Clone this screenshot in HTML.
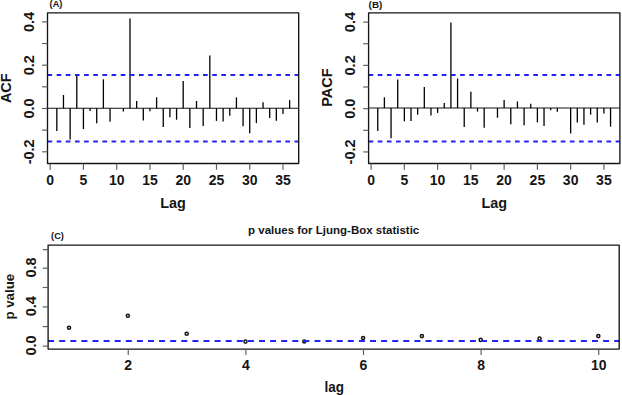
<!DOCTYPE html>
<html><head><meta charset="utf-8"><style>
html,body{margin:0;padding:0;background:#fff;}
svg{display:block;}
text{font-family:"Liberation Sans", sans-serif;fill:#151515;}
</style></head><body>
<svg width="622" height="395" viewBox="0 0 622 395">
<rect width="622" height="395" fill="#fff"/>
<line x1="47.5" y1="108.25" x2="298.7" y2="108.25" stroke="#151515" stroke-width="1.15"/>
<line x1="56.82" y1="108.25" x2="56.82" y2="130.90" stroke="#000" stroke-width="1.3"/>
<line x1="63.47" y1="108.25" x2="63.47" y2="95.00" stroke="#000" stroke-width="1.3"/>
<line x1="70.13" y1="108.25" x2="70.13" y2="139.40" stroke="#000" stroke-width="1.3"/>
<line x1="76.78" y1="108.25" x2="76.78" y2="75.30" stroke="#000" stroke-width="1.3"/>
<line x1="83.43" y1="108.25" x2="83.43" y2="129.00" stroke="#000" stroke-width="1.3"/>
<line x1="90.08" y1="108.25" x2="90.08" y2="111.00" stroke="#000" stroke-width="1.3"/>
<line x1="96.73" y1="108.25" x2="96.73" y2="123.20" stroke="#000" stroke-width="1.3"/>
<line x1="103.39" y1="108.25" x2="103.39" y2="79.30" stroke="#000" stroke-width="1.3"/>
<line x1="110.04" y1="108.25" x2="110.04" y2="121.80" stroke="#000" stroke-width="1.3"/>
<line x1="116.69" y1="108.25" x2="116.69" y2="108.25" stroke="#000" stroke-width="1.3"/>
<line x1="123.34" y1="108.25" x2="123.34" y2="111.60" stroke="#000" stroke-width="1.3"/>
<line x1="129.99" y1="108.25" x2="129.99" y2="18.40" stroke="#000" stroke-width="1.3"/>
<line x1="136.65" y1="108.25" x2="136.65" y2="101.00" stroke="#000" stroke-width="1.3"/>
<line x1="143.30" y1="108.25" x2="143.30" y2="120.40" stroke="#000" stroke-width="1.3"/>
<line x1="149.95" y1="108.25" x2="149.95" y2="111.30" stroke="#000" stroke-width="1.3"/>
<line x1="156.60" y1="108.25" x2="156.60" y2="97.30" stroke="#000" stroke-width="1.3"/>
<line x1="163.25" y1="108.25" x2="163.25" y2="126.90" stroke="#000" stroke-width="1.3"/>
<line x1="169.91" y1="108.25" x2="169.91" y2="117.30" stroke="#000" stroke-width="1.3"/>
<line x1="176.56" y1="108.25" x2="176.56" y2="119.70" stroke="#000" stroke-width="1.3"/>
<line x1="183.21" y1="108.25" x2="183.21" y2="80.90" stroke="#000" stroke-width="1.3"/>
<line x1="189.86" y1="108.25" x2="189.86" y2="128.10" stroke="#000" stroke-width="1.3"/>
<line x1="196.51" y1="108.25" x2="196.51" y2="101.00" stroke="#000" stroke-width="1.3"/>
<line x1="203.17" y1="108.25" x2="203.17" y2="126.00" stroke="#000" stroke-width="1.3"/>
<line x1="209.82" y1="108.25" x2="209.82" y2="55.60" stroke="#000" stroke-width="1.3"/>
<line x1="216.47" y1="108.25" x2="216.47" y2="120.90" stroke="#000" stroke-width="1.3"/>
<line x1="223.12" y1="108.25" x2="223.12" y2="121.50" stroke="#000" stroke-width="1.3"/>
<line x1="229.77" y1="108.25" x2="229.77" y2="115.70" stroke="#000" stroke-width="1.3"/>
<line x1="236.43" y1="108.25" x2="236.43" y2="97.40" stroke="#000" stroke-width="1.3"/>
<line x1="243.08" y1="108.25" x2="243.08" y2="126.30" stroke="#000" stroke-width="1.3"/>
<line x1="249.73" y1="108.25" x2="249.73" y2="133.20" stroke="#000" stroke-width="1.3"/>
<line x1="256.38" y1="108.25" x2="256.38" y2="123.10" stroke="#000" stroke-width="1.3"/>
<line x1="263.03" y1="108.25" x2="263.03" y2="102.20" stroke="#000" stroke-width="1.3"/>
<line x1="269.69" y1="108.25" x2="269.69" y2="117.90" stroke="#000" stroke-width="1.3"/>
<line x1="276.34" y1="108.25" x2="276.34" y2="120.80" stroke="#000" stroke-width="1.3"/>
<line x1="282.99" y1="108.25" x2="282.99" y2="114.00" stroke="#000" stroke-width="1.3"/>
<line x1="289.64" y1="108.25" x2="289.64" y2="100.10" stroke="#000" stroke-width="1.3"/>
<line x1="47.5" y1="75.05" x2="298.7" y2="75.05" stroke="#2424f2" stroke-width="1.9" stroke-dasharray="4.65 4.5"/>
<line x1="47.5" y1="141.45" x2="298.7" y2="141.45" stroke="#2424f2" stroke-width="1.9" stroke-dasharray="4.65 4.5"/>
<rect x="47.5" y="12.9" width="251.20" height="150.60" fill="none" stroke="#151515" stroke-width="1.35" stroke-linejoin="round"/>
<line x1="42.1" y1="151.80" x2="47.5" y2="151.80" stroke="#5a5a5a" stroke-width="1.15"/>
<line x1="42.1" y1="130.15" x2="47.5" y2="130.15" stroke="#5a5a5a" stroke-width="1.15"/>
<line x1="42.1" y1="108.50" x2="47.5" y2="108.50" stroke="#5a5a5a" stroke-width="1.15"/>
<line x1="42.1" y1="86.85" x2="47.5" y2="86.85" stroke="#5a5a5a" stroke-width="1.15"/>
<line x1="42.1" y1="65.20" x2="47.5" y2="65.20" stroke="#5a5a5a" stroke-width="1.15"/>
<line x1="42.1" y1="43.55" x2="47.5" y2="43.55" stroke="#5a5a5a" stroke-width="1.15"/>
<line x1="42.1" y1="21.90" x2="47.5" y2="21.90" stroke="#5a5a5a" stroke-width="1.15"/>
<text transform="translate(34.40 151.80) rotate(-90)" text-anchor="middle" font-size="14.5" font-weight="bold">-0.2</text>
<text transform="translate(34.40 108.50) rotate(-90)" text-anchor="middle" font-size="14.5" font-weight="bold">0.0</text>
<text transform="translate(34.40 65.20) rotate(-90)" text-anchor="middle" font-size="14.5" font-weight="bold">0.2</text>
<text transform="translate(34.40 21.90) rotate(-90)" text-anchor="middle" font-size="14.5" font-weight="bold">0.4</text>
<line x1="50.17" y1="163.5" x2="50.17" y2="169.7" stroke="#5a5a5a" stroke-width="1.15"/>
<text transform="translate(50.17 185.40) scale(1 1.05)" text-anchor="middle" font-size="14" font-weight="bold">0</text>
<line x1="83.43" y1="163.5" x2="83.43" y2="169.7" stroke="#5a5a5a" stroke-width="1.15"/>
<text transform="translate(83.43 185.40) scale(1 1.05)" text-anchor="middle" font-size="14" font-weight="bold">5</text>
<line x1="116.69" y1="163.5" x2="116.69" y2="169.7" stroke="#5a5a5a" stroke-width="1.15"/>
<text transform="translate(116.69 185.40) scale(1 1.05)" text-anchor="middle" font-size="14" font-weight="bold">10</text>
<line x1="149.95" y1="163.5" x2="149.95" y2="169.7" stroke="#5a5a5a" stroke-width="1.15"/>
<text transform="translate(149.95 185.40) scale(1 1.05)" text-anchor="middle" font-size="14" font-weight="bold">15</text>
<line x1="183.21" y1="163.5" x2="183.21" y2="169.7" stroke="#5a5a5a" stroke-width="1.15"/>
<text transform="translate(183.21 185.40) scale(1 1.05)" text-anchor="middle" font-size="14" font-weight="bold">20</text>
<line x1="216.47" y1="163.5" x2="216.47" y2="169.7" stroke="#5a5a5a" stroke-width="1.15"/>
<text transform="translate(216.47 185.40) scale(1 1.05)" text-anchor="middle" font-size="14" font-weight="bold">25</text>
<line x1="249.73" y1="163.5" x2="249.73" y2="169.7" stroke="#5a5a5a" stroke-width="1.15"/>
<text transform="translate(249.73 185.40) scale(1 1.05)" text-anchor="middle" font-size="14" font-weight="bold">30</text>
<line x1="282.99" y1="163.5" x2="282.99" y2="169.7" stroke="#5a5a5a" stroke-width="1.15"/>
<text transform="translate(282.99 185.40) scale(1 1.05)" text-anchor="middle" font-size="14" font-weight="bold">35</text>
<text x="173.10" y="208.00" text-anchor="middle" font-size="15" font-weight="bold" textLength="25.6" lengthAdjust="spacingAndGlyphs">Lag</text>
<text transform="translate(11.20 88.20) rotate(-90)" text-anchor="middle" font-size="14.5" font-weight="bold">ACF</text>
<text x="49.6" y="6.6" font-size="9" font-weight="bold" textLength="12.8" lengthAdjust="spacingAndGlyphs">(A)</text>
<line x1="368.6" y1="108.0" x2="619.9" y2="108.0" stroke="#151515" stroke-width="1.15"/>
<line x1="377.74" y1="108.0" x2="377.74" y2="130.90" stroke="#000" stroke-width="1.3"/>
<line x1="384.39" y1="108.0" x2="384.39" y2="97.30" stroke="#000" stroke-width="1.3"/>
<line x1="391.05" y1="108.0" x2="391.05" y2="138.20" stroke="#000" stroke-width="1.3"/>
<line x1="397.70" y1="108.0" x2="397.70" y2="79.60" stroke="#000" stroke-width="1.3"/>
<line x1="404.35" y1="108.0" x2="404.35" y2="121.30" stroke="#000" stroke-width="1.3"/>
<line x1="411.00" y1="108.0" x2="411.00" y2="121.00" stroke="#000" stroke-width="1.3"/>
<line x1="417.65" y1="108.0" x2="417.65" y2="114.80" stroke="#000" stroke-width="1.3"/>
<line x1="424.31" y1="108.0" x2="424.31" y2="87.00" stroke="#000" stroke-width="1.3"/>
<line x1="430.96" y1="108.0" x2="430.96" y2="115.60" stroke="#000" stroke-width="1.3"/>
<line x1="437.61" y1="108.0" x2="437.61" y2="112.90" stroke="#000" stroke-width="1.3"/>
<line x1="444.26" y1="108.0" x2="444.26" y2="103.10" stroke="#000" stroke-width="1.3"/>
<line x1="450.91" y1="108.0" x2="450.91" y2="22.50" stroke="#000" stroke-width="1.3"/>
<line x1="457.57" y1="108.0" x2="457.57" y2="78.50" stroke="#000" stroke-width="1.3"/>
<line x1="464.22" y1="108.0" x2="464.22" y2="126.90" stroke="#000" stroke-width="1.3"/>
<line x1="470.87" y1="108.0" x2="470.87" y2="91.80" stroke="#000" stroke-width="1.3"/>
<line x1="477.52" y1="108.0" x2="477.52" y2="111.60" stroke="#000" stroke-width="1.3"/>
<line x1="484.17" y1="108.0" x2="484.17" y2="127.70" stroke="#000" stroke-width="1.3"/>
<line x1="490.83" y1="108.0" x2="490.83" y2="108.00" stroke="#000" stroke-width="1.3"/>
<line x1="497.48" y1="108.0" x2="497.48" y2="117.80" stroke="#000" stroke-width="1.3"/>
<line x1="504.13" y1="108.0" x2="504.13" y2="99.90" stroke="#000" stroke-width="1.3"/>
<line x1="510.78" y1="108.0" x2="510.78" y2="124.20" stroke="#000" stroke-width="1.3"/>
<line x1="517.43" y1="108.0" x2="517.43" y2="101.50" stroke="#000" stroke-width="1.3"/>
<line x1="524.09" y1="108.0" x2="524.09" y2="125.30" stroke="#000" stroke-width="1.3"/>
<line x1="530.74" y1="108.0" x2="530.74" y2="103.70" stroke="#000" stroke-width="1.3"/>
<line x1="537.39" y1="108.0" x2="537.39" y2="122.40" stroke="#000" stroke-width="1.3"/>
<line x1="544.04" y1="108.0" x2="544.04" y2="125.90" stroke="#000" stroke-width="1.3"/>
<line x1="550.69" y1="108.0" x2="550.69" y2="110.30" stroke="#000" stroke-width="1.3"/>
<line x1="557.35" y1="108.0" x2="557.35" y2="111.80" stroke="#000" stroke-width="1.3"/>
<line x1="564.00" y1="108.0" x2="564.00" y2="108.00" stroke="#000" stroke-width="1.3"/>
<line x1="570.65" y1="108.0" x2="570.65" y2="133.50" stroke="#000" stroke-width="1.3"/>
<line x1="577.30" y1="108.0" x2="577.30" y2="122.60" stroke="#000" stroke-width="1.3"/>
<line x1="583.95" y1="108.0" x2="583.95" y2="124.70" stroke="#000" stroke-width="1.3"/>
<line x1="590.61" y1="108.0" x2="590.61" y2="114.60" stroke="#000" stroke-width="1.3"/>
<line x1="597.26" y1="108.0" x2="597.26" y2="122.60" stroke="#000" stroke-width="1.3"/>
<line x1="603.91" y1="108.0" x2="603.91" y2="113.40" stroke="#000" stroke-width="1.3"/>
<line x1="610.56" y1="108.0" x2="610.56" y2="126.70" stroke="#000" stroke-width="1.3"/>
<line x1="368.6" y1="75.05" x2="619.9" y2="75.05" stroke="#2424f2" stroke-width="1.9" stroke-dasharray="4.65 4.5"/>
<line x1="368.6" y1="141.45" x2="619.9" y2="141.45" stroke="#2424f2" stroke-width="1.9" stroke-dasharray="4.65 4.5"/>
<rect x="368.6" y="12.9" width="251.30" height="150.60" fill="none" stroke="#151515" stroke-width="1.35" stroke-linejoin="round"/>
<line x1="363.20000000000005" y1="151.93" x2="368.6" y2="151.93" stroke="#5a5a5a" stroke-width="1.15"/>
<line x1="363.20000000000005" y1="130.29" x2="368.6" y2="130.29" stroke="#5a5a5a" stroke-width="1.15"/>
<line x1="363.20000000000005" y1="108.65" x2="368.6" y2="108.65" stroke="#5a5a5a" stroke-width="1.15"/>
<line x1="363.20000000000005" y1="87.01" x2="368.6" y2="87.01" stroke="#5a5a5a" stroke-width="1.15"/>
<line x1="363.20000000000005" y1="65.37" x2="368.6" y2="65.37" stroke="#5a5a5a" stroke-width="1.15"/>
<line x1="363.20000000000005" y1="43.73" x2="368.6" y2="43.73" stroke="#5a5a5a" stroke-width="1.15"/>
<line x1="363.20000000000005" y1="22.09" x2="368.6" y2="22.09" stroke="#5a5a5a" stroke-width="1.15"/>
<text transform="translate(355.32 151.93) rotate(-90)" text-anchor="middle" font-size="14.5" font-weight="bold">-0.2</text>
<text transform="translate(355.32 108.65) rotate(-90)" text-anchor="middle" font-size="14.5" font-weight="bold">0.0</text>
<text transform="translate(355.32 65.37) rotate(-90)" text-anchor="middle" font-size="14.5" font-weight="bold">0.2</text>
<text transform="translate(355.32 22.09) rotate(-90)" text-anchor="middle" font-size="14.5" font-weight="bold">0.4</text>
<line x1="371.09" y1="163.5" x2="371.09" y2="169.7" stroke="#5a5a5a" stroke-width="1.15"/>
<text transform="translate(371.09 185.40) scale(1 1.05)" text-anchor="middle" font-size="14" font-weight="bold">0</text>
<line x1="404.35" y1="163.5" x2="404.35" y2="169.7" stroke="#5a5a5a" stroke-width="1.15"/>
<text transform="translate(404.35 185.40) scale(1 1.05)" text-anchor="middle" font-size="14" font-weight="bold">5</text>
<line x1="437.61" y1="163.5" x2="437.61" y2="169.7" stroke="#5a5a5a" stroke-width="1.15"/>
<text transform="translate(437.61 185.40) scale(1 1.05)" text-anchor="middle" font-size="14" font-weight="bold">10</text>
<line x1="470.87" y1="163.5" x2="470.87" y2="169.7" stroke="#5a5a5a" stroke-width="1.15"/>
<text transform="translate(470.87 185.40) scale(1 1.05)" text-anchor="middle" font-size="14" font-weight="bold">15</text>
<line x1="504.13" y1="163.5" x2="504.13" y2="169.7" stroke="#5a5a5a" stroke-width="1.15"/>
<text transform="translate(504.13 185.40) scale(1 1.05)" text-anchor="middle" font-size="14" font-weight="bold">20</text>
<line x1="537.39" y1="163.5" x2="537.39" y2="169.7" stroke="#5a5a5a" stroke-width="1.15"/>
<text transform="translate(537.39 185.40) scale(1 1.05)" text-anchor="middle" font-size="14" font-weight="bold">25</text>
<line x1="570.65" y1="163.5" x2="570.65" y2="169.7" stroke="#5a5a5a" stroke-width="1.15"/>
<text transform="translate(570.65 185.40) scale(1 1.05)" text-anchor="middle" font-size="14" font-weight="bold">30</text>
<line x1="603.91" y1="163.5" x2="603.91" y2="169.7" stroke="#5a5a5a" stroke-width="1.15"/>
<text transform="translate(603.91 185.40) scale(1 1.05)" text-anchor="middle" font-size="14" font-weight="bold">35</text>
<text x="494.25" y="208.00" text-anchor="middle" font-size="15" font-weight="bold" textLength="25.6" lengthAdjust="spacingAndGlyphs">Lag</text>
<text transform="translate(332.40 87.60) rotate(-90)" text-anchor="middle" font-size="14.5" font-weight="bold">PACF</text>
<text x="368.6" y="7.6" font-size="9" font-weight="bold" textLength="13.8" lengthAdjust="spacingAndGlyphs">(B)</text>
<circle cx="69.04" cy="327.8" r="1.55" fill="none" stroke="#151515" stroke-width="1.5"/>
<circle cx="127.85" cy="315.7" r="1.55" fill="none" stroke="#151515" stroke-width="1.5"/>
<circle cx="186.66" cy="333.8" r="1.55" fill="none" stroke="#151515" stroke-width="1.5"/>
<circle cx="245.47" cy="341.6" r="1.55" fill="none" stroke="#151515" stroke-width="1.5"/>
<circle cx="304.28" cy="341.5" r="1.55" fill="none" stroke="#151515" stroke-width="1.5"/>
<circle cx="363.09" cy="338" r="1.55" fill="none" stroke="#151515" stroke-width="1.5"/>
<circle cx="421.90" cy="336.1" r="1.55" fill="none" stroke="#151515" stroke-width="1.5"/>
<circle cx="480.71" cy="339.9" r="1.55" fill="none" stroke="#151515" stroke-width="1.5"/>
<circle cx="539.52" cy="338.6" r="1.55" fill="none" stroke="#151515" stroke-width="1.5"/>
<circle cx="598.33" cy="336.1" r="1.55" fill="none" stroke="#151515" stroke-width="1.5"/>
<line x1="48.1" y1="341.0" x2="619.2" y2="341.0" stroke="#2424f2" stroke-width="1.9" stroke-dasharray="6.0 5.1"/>
<rect x="48.1" y="245.1" width="571.10" height="104.00" fill="none" stroke="#151515" stroke-width="1.35" stroke-linejoin="round"/>
<line x1="42.7" y1="346.10" x2="48.1" y2="346.10" stroke="#5a5a5a" stroke-width="1.15"/>
<line x1="42.7" y1="326.60" x2="48.1" y2="326.60" stroke="#5a5a5a" stroke-width="1.15"/>
<line x1="42.7" y1="306.90" x2="48.1" y2="306.90" stroke="#5a5a5a" stroke-width="1.15"/>
<line x1="42.7" y1="287.50" x2="48.1" y2="287.50" stroke="#5a5a5a" stroke-width="1.15"/>
<line x1="42.7" y1="268.20" x2="48.1" y2="268.20" stroke="#5a5a5a" stroke-width="1.15"/>
<line x1="42.7" y1="249.70" x2="48.1" y2="249.70" stroke="#5a5a5a" stroke-width="1.15"/>
<text transform="translate(35.90 345.40) rotate(-90)" text-anchor="middle" font-size="14.5" font-weight="bold">0.0</text>
<text transform="translate(35.90 306.20) rotate(-90)" text-anchor="middle" font-size="14.5" font-weight="bold">0.4</text>
<text transform="translate(35.90 267.50) rotate(-90)" text-anchor="middle" font-size="14.5" font-weight="bold">0.8</text>
<line x1="128.25" y1="349.1" x2="128.25" y2="355.1" stroke="#5a5a5a" stroke-width="1.15"/>
<text transform="translate(128.25 370.00) scale(1 1.1)" text-anchor="middle" font-size="14" font-weight="bold">2</text>
<line x1="245.87" y1="349.1" x2="245.87" y2="355.1" stroke="#5a5a5a" stroke-width="1.15"/>
<text transform="translate(245.87 370.00) scale(1 1.1)" text-anchor="middle" font-size="14" font-weight="bold">4</text>
<line x1="363.49" y1="349.1" x2="363.49" y2="355.1" stroke="#5a5a5a" stroke-width="1.15"/>
<text transform="translate(363.49 370.00) scale(1 1.1)" text-anchor="middle" font-size="14" font-weight="bold">6</text>
<line x1="481.11" y1="349.1" x2="481.11" y2="355.1" stroke="#5a5a5a" stroke-width="1.15"/>
<text transform="translate(481.11 370.00) scale(1 1.1)" text-anchor="middle" font-size="14" font-weight="bold">8</text>
<line x1="598.73" y1="349.1" x2="598.73" y2="355.1" stroke="#5a5a5a" stroke-width="1.15"/>
<text transform="translate(598.73 370.00) scale(1 1.1)" text-anchor="middle" font-size="14" font-weight="bold">10</text>
<text x="334.20" y="391.60" text-anchor="middle" font-size="14.5" font-weight="bold" textLength="19.5" lengthAdjust="spacingAndGlyphs">lag</text>
<text transform="translate(14.10 296.70) rotate(-90)" text-anchor="middle" font-size="13.3" font-weight="bold">p value</text>
<text x="333.65" y="233.70" text-anchor="middle" font-size="11.5" font-weight="bold">p values for Ljung-Box statistic</text>
<text x="51.1" y="239.0" font-size="9" font-weight="bold" textLength="12.8" lengthAdjust="spacingAndGlyphs">(C)</text>
</svg>
</body></html>
